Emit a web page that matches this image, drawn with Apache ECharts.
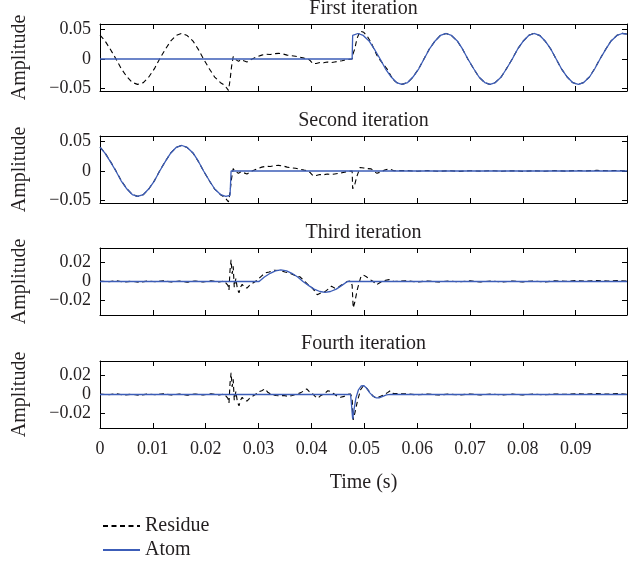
<!DOCTYPE html>
<html>
<head>
<meta charset="utf-8">
<script src="https://cdn.jsdelivr.net/npm/echarts@6/dist/echarts.min.js"></script>
<style>html,body{margin:0;padding:0;background:#fff;}#chart{width:629px;height:562px;}</style>
</head>
<body>
<div id="chart"></div>
<script>
// ---------- data ----------
const panelTitles = ['First iteration', 'Second iteration', 'Third iteration', 'Fourth iteration'];
const xTicks = [0, 0.01, 0.02, 0.03, 0.04, 0.05, 0.06, 0.07, 0.08, 0.09];
const xTickLabels = ['0', '0.01', '0.02', '0.03', '0.04', '0.05', '0.06', '0.07', '0.08', '0.09'];
const yTicksBig = [-0.05, 0, 0.05];
const yTickLabelsBig = ['\u22120.05', '0', '0.05'];
const yTicksSmall = [-0.02, 0, 0.02];
const yTickLabelsSmall = ['\u22120.02', '0', '0.02'];

// Panel 1
const residue1 = [[0,0.0402],[0.0009,0.0312],[0.0019,0.0172],[0.003,0.0005],[0.004,-0.016],[0.0051,-0.0302],[0.0061,-0.0395],[0.0071,-0.0428],[0.0082,-0.0399],[0.0092,-0.0307],[0.0103,-0.0163],[0.0113,0.0004],[0.0124,0.0168],[0.0134,0.0306],[0.0144,0.0399],[0.0155,0.0432],[0.0165,0.0395],[0.0176,0.0301],[0.0186,0.0162],[0.0196,-0.0002],[0.0207,-0.0168],[0.0217,-0.0306],[0.0228,-0.04],[0.0236,-0.0445],[0.0243,-0.053],[0.0246,-0.036],[0.0249,-0.012],
[0.0252,0.004],[0.0255,0.0],[0.0258,0.002],[0.0262,-0.004],[0.0267,-0.001],[0.0272,-0.003],[0.0278,-0.005],[0.0284,-0.002],[0.029,0.001],[0.0298,0.004],[0.0306,0.0065],[0.0314,0.008],[0.0322,0.0075],[0.033,0.009],[0.0338,0.0095],[0.0346,0.0085],[0.0354,0.0065],[0.0362,0.0055],[0.037,0.0045],[0.0378,0.003],[0.0386,0.0015],[0.0393,0.0005],[0.0398,-0.003],[0.0403,-0.008],[0.0409,-0.0075],[0.0416,-0.006],[0.0423,-0.0065],[0.043,-0.005],[0.0437,-0.006],[0.0444,-0.005],[0.0451,-0.004],[0.0458,-0.003],[0.0465,-0.0015],[0.0472,-0.0005],
[0.0477,0.0],[0.0479,0.0095],[0.0482,0.017],[0.0486,0.034],[0.0492,0.047],[0.0499,0.045],[0.0506,0.038],[0.0513,0.0275],[0.0519,0.0155],[0.0524,0.006],[0.053,-0.002],[0.0537,-0.01],[0.0544,-0.018],[0.055,-0.028],[0.0556,-0.036],[0.0561,-0.0395],[0.0571,-0.0428],
[0.0582,-0.0399],[0.0592,-0.0306],[0.0603,-0.0162],[0.0613,0.0003],[0.0623,0.0168],[0.0634,0.0306],[0.0644,0.0398],[0.0655,0.0431],[0.0665,0.0396],[0.0676,0.0302],[0.0686,0.0163],[0.0696,-0.0002],[0.0707,-0.0167],[0.0717,-0.0306],[0.0728,-0.0399],[0.0738,-0.0431],[0.0748,-0.0396],[0.0759,-0.0302],[0.0769,-0.0163],[0.078,0.0002],[0.079,0.0167],[0.0801,0.0305],[0.0811,0.0399],[0.0821,0.0431],[0.0832,0.0396],[0.0842,0.0303],[0.0853,0.0164],[0.0863,-0.0002],[0.0873,-0.0166],[0.0884,-0.0305],[0.0894,-0.0398],[0.0905,-0.043],[0.0915,-0.0395],[0.0926,-0.0301],[0.0936,-0.0161],[0.0946,0.0004],[0.0957,0.0169],[0.0967,0.0307],[0.0978,0.0399],[0.0988,0.0432],[0.0997,0.042]];
const atom1 = [[0,0],[0.0477,0],[0.0478,0.0397],[0.0488,0.043],[0.0498,0.0397],[0.0509,0.0304],[0.0519,0.0165],[0.053,0],[0.054,-0.0165],[0.0551,-0.0304],[0.0561,-0.0397],[0.0571,-0.043],[0.0582,-0.0397],[0.0592,-0.0304],[0.0603,-0.0165],[0.0613,0],[0.0623,0.0165],[0.0634,0.0304],[0.0644,0.0397],[0.0655,0.043],[0.0665,0.0397],[0.0676,0.0304],[0.0686,0.0165],[0.0696,0],[0.0707,-0.0165],[0.0717,-0.0304],[0.0728,-0.0397],[0.0738,-0.043],[0.0748,-0.0397],[0.0759,-0.0304],[0.0769,-0.0165],[0.078,0],[0.079,0.0165],[0.0801,0.0304],[0.0811,0.0397],[0.0821,0.043],[0.0832,0.0397],[0.0842,0.0304],[0.0853,0.0165],[0.0863,0],[0.0873,-0.0165],[0.0884,-0.0304],[0.0894,-0.0397],[0.0905,-0.043],[0.0915,-0.0397],[0.0926,-0.0304],[0.0936,-0.0165],[0.0946,0],[0.0957,0.0165],[0.0967,0.0304],[0.0978,0.0397],[0.0988,0.043],[0.0997,0.0418]];

// Panel 2
const residue2 = [[0,0.0402],[0.0009,0.0312],[0.0019,0.0172],[0.003,0.0005],[0.004,-0.016],[0.0051,-0.0302],[0.0061,-0.0395],[0.0071,-0.0428],[0.0082,-0.0399],[0.0092,-0.0307],[0.0103,-0.0163],[0.0113,0.0004],[0.0124,0.0168],[0.0134,0.0306],[0.0144,0.0399],[0.0155,0.0432],[0.0165,0.0395],[0.0176,0.0301],[0.0186,0.0162],[0.0196,-0.0002],[0.0207,-0.0168],[0.0217,-0.0306],[0.0228,-0.04],[0.0236,-0.0445],[0.0243,-0.052],[0.0246,-0.036],[0.0249,-0.012],
[0.0252,0.004],[0.0255,0.0],[0.0258,0.002],[0.0262,-0.004],[0.0267,-0.001],[0.0272,-0.003],[0.0278,-0.005],[0.0284,-0.002],[0.029,0.001],[0.0298,0.004],[0.0306,0.0065],[0.0314,0.008],[0.0322,0.0075],[0.033,0.009],[0.0338,0.0095],[0.0346,0.0085],[0.0354,0.0065],[0.0362,0.0055],[0.037,0.0045],[0.0378,0.003],[0.0386,0.0015],[0.0393,0.0005],[0.0398,-0.003],[0.0403,-0.008],[0.0409,-0.0075],[0.0416,-0.006],[0.0423,-0.0065],[0.043,-0.005],[0.0437,-0.006],[0.0444,-0.005],[0.0451,-0.004],[0.0458,-0.003],[0.0465,-0.0015],[0.0472,-0.0005],
[0.0477,0.0],[0.0478,-0.03],[0.0481,-0.026],[0.0486,-0.009],[0.0492,0.006],[0.0499,0.005],[0.0506,0.004],[0.0513,0.0035],[0.0519,-0.001],[0.0524,-0.004],[0.053,-0.002],[0.0537,0.001],[0.0544,0.003],[0.055,0.0025],[0.0556,0.0005],
[0.058,0.0007],[0.06,-0.0004],[0.062,0.0006],[0.064,-0.0005],[0.066,0.0004],[0.068,-0.0006],[0.07,0.0005],[0.072,-0.0003],[0.074,0.0006],[0.076,-0.0005],[0.078,0.0004],[0.08,-0.0006],[0.082,0.0003],[0.084,-0.0004],[0.086,0.0006],[0.088,-0.0002],[0.09,0.0008],[0.092,0.0002],[0.094,0.001],[0.096,0.0004],[0.098,0.0009],[0.0997,0.0003]];
const atom2 = [[0,0.04],[0.0009,0.0304],[0.0019,0.0165],[0.003,0],[0.004,-0.0165],[0.0051,-0.0304],[0.0061,-0.0397],[0.0071,-0.043],[0.0082,-0.0397],[0.0092,-0.0304],[0.0103,-0.0165],[0.0113,0],[0.0124,0.0165],[0.0134,0.0304],[0.0144,0.0397],[0.0155,0.043],[0.0165,0.0397],[0.0176,0.0304],[0.0186,0.0165],[0.0196,0],[0.0207,-0.0165],[0.0217,-0.0304],[0.0228,-0.0397],[0.0238,-0.043],[0.0246,-0.041],[0.0248,0],[0.0997,0]];

// Panel 3
const residue3 = [[0,0.0006],[0.0015,-0.0004],[0.003,0.0008],[0.0045,-0.0006],[0.006,0.0003],[0.0075,-0.0008],[0.009,0.0005],[0.0105,-0.0003],[0.012,0.0007],[0.0135,-0.0005],[0.015,0.0004],[0.0165,-0.0007],[0.018,0.0006],[0.0195,-0.0004],[0.021,0.0008],[0.0225,-0.0005],[0.0235,0.0006],
[0.0242,-0.004],[0.0244,-0.009],[0.0246,0.012],[0.0248,0.023],[0.025,0.008],[0.0252,0.016],[0.0254,-0.006],[0.0257,0.003],[0.026,-0.008],[0.0263,-0.012],[0.0266,-0.006],[0.0269,-0.003],[0.0273,-0.006],[0.0278,-0.007],[0.0283,-0.004],[0.0288,-0.002],[0.0294,0.0],[0.03,0.003],[0.0306,0.006],[0.0312,0.009],[0.032,0.01],[0.033,0.012],[0.034,0.0115],[0.035,0.01],[0.0359,0.009],[0.0368,0.0065],[0.0378,0.005],[0.0386,0.001],[0.0393,-0.003],[0.04,-0.006],[0.0406,-0.01],[0.0411,-0.014],[0.0418,-0.012],[0.0425,-0.011],[0.0432,-0.008],[0.0438,-0.005],[0.0444,-0.007],[0.045,-0.0065],[0.0456,-0.004],[0.0462,-0.002],[0.0468,0.0],[0.0474,0.0005],
[0.0477,-0.004],[0.0479,-0.028],[0.0482,-0.022],[0.0487,-0.008],[0.0493,0.004],[0.0498,0.007],[0.0504,0.005],[0.0511,0.002],[0.0517,0.0],[0.0523,-0.0035],[0.053,-0.001],[0.0538,0.001],[0.0547,0.002],[0.0556,0.0],
[0.058,0.0008],[0.06,-0.0005],[0.062,0.0006],[0.064,-0.0006],[0.066,0.0005],[0.068,-0.0004],[0.07,0.0007],[0.072,-0.0005],[0.074,0.0006],[0.076,-0.0006],[0.078,0.0005],[0.08,-0.0004],[0.082,0.0006],[0.084,-0.0005],[0.086,0.0007],[0.088,0.0002],[0.09,0.0009],[0.092,0.0003],[0.094,0.0011],[0.096,0.0005],[0.098,0.001],[0.0997,0.0004]];
const atom3 = [[0,0],[0.0301,0],[0.0311,0.0047],[0.0322,0.0087],[0.0332,0.0113],[0.0342,0.0123],[0.0353,0.0113],[0.0363,0.0087],[0.0374,0.0047],[0.0384,0],[0.0395,-0.0044],[0.0405,-0.0081],[0.0416,-0.0106],[0.0426,-0.0115],[0.0436,-0.0106],[0.0447,-0.0081],[0.0457,-0.0044],[0.0468,0],[0.0997,0]];

// Panel 4
const residue4 = [[0,0.0006],[0.0015,-0.0004],[0.003,0.0008],[0.0045,-0.0006],[0.006,0.0003],[0.0075,-0.0008],[0.009,0.0005],[0.0105,-0.0003],[0.012,0.0007],[0.0135,-0.0005],[0.015,0.0004],[0.0165,-0.0007],[0.018,0.0006],[0.0195,-0.0004],[0.021,0.0008],[0.0225,-0.0005],[0.0235,0.0006],
[0.0242,-0.004],[0.0244,-0.009],[0.0246,0.012],[0.0248,0.023],[0.025,0.008],[0.0252,0.016],[0.0254,-0.006],[0.0257,0.003],[0.026,-0.008],[0.0263,-0.012],[0.0266,-0.006],[0.0269,-0.003],[0.0273,-0.006],[0.0278,-0.007],[0.0283,-0.004],[0.0288,-0.002],[0.0294,0.0],
[0.03,0.003],[0.0306,0.004],[0.0312,0.006],[0.0318,0.002],[0.0325,0.0],[0.0333,-0.001],[0.034,-0.0015],[0.0348,-0.001],[0.0356,-0.002],[0.0364,-0.001],[0.0372,0.0005],[0.038,0.002],[0.0386,0.004],[0.0391,0.006],[0.0396,0.003],[0.0402,0.001],[0.0407,-0.002],[0.0412,-0.004],[0.0418,-0.001],[0.0425,0.001],[0.0431,0.004],[0.0437,0.003],[0.0443,0.0005],[0.0449,-0.002],[0.0455,-0.003],[0.0462,-0.002],[0.0468,0.0],[0.0474,0.0005],
[0.0477,-0.004],[0.0479,-0.027],[0.0482,-0.02],[0.0487,-0.007],[0.0493,0.005],[0.0498,0.009],[0.0504,0.007],[0.0511,0.002],[0.0517,-0.002],[0.0523,-0.004],[0.053,-0.002],[0.0538,0.0],[0.0544,0.002],[0.0549,0.004],[0.0555,0.001],
[0.058,0.0007],[0.06,-0.0004],[0.062,0.0005],[0.064,-0.0006],[0.066,0.0004],[0.068,-0.0005],[0.07,0.0006],[0.072,-0.0004],[0.074,0.0005],[0.076,-0.0006],[0.078,0.0004],[0.08,-0.0005],[0.082,0.0005],[0.084,-0.0004],[0.086,0.0006],[0.088,0.0002],[0.09,0.0008],[0.092,0.0003],[0.094,0.001],[0.096,0.0004],[0.098,0.0009],[0.0997,0.0003]];
const atom4 = [[0,0],[0.0474,0],[0.0476,-0.012],[0.0478,-0.026],[0.048,-0.018],[0.0484,-0.004],[0.0489,0.005],[0.0494,0.009],[0.0499,0.0095],[0.0504,0.007],[0.051,0.002],[0.0516,-0.0015],[0.0522,-0.0035],[0.0528,-0.0035],[0.0535,-0.002],[0.0542,-0.0005],[0.055,0.0002],[0.0558,0],[0.0997,0]];

const residues = [residue1, residue2, residue3, residue4];
const atoms = [atom1, atom2, atom3, atom4];
const legendNames = ['Residue', 'Atom'];

// ---------- layout / style ----------
const FONT = 'Liberation Serif';
const TXT = '#231f20';
const AX = '#000';
const BLUE = '#3c5db8';
const gridTops = [24, 136, 248, 361];
const gridH = 67;
const yRanges = [[-0.054, 0.059], [-0.054, 0.059], [-0.0355, 0.0355], [-0.0355, 0.0355]];
const yTickSets = [yTicksBig, yTicksBig, yTicksSmall, yTicksSmall];
const yLabelSets = [yTickLabelsBig, yTickLabelsBig, yTickLabelsSmall, yTickLabelsSmall];
const titleY = [9, 121, 233, 344];
const XMAX = 0.0997;

const grids = [], xAxes = [], yAxes = [], series = [], graphics = [];
for (let i = 0; i < 4; i++) {
  grids.push({ left: 100, right: 2, top: gridTops[i], height: gridH, containLabel: false });
  const xBase = {
    type: 'value', gridIndex: i, min: 0, max: XMAX,
    axisLine: { show: true, onZero: false, lineStyle: { color: AX, width: 1 } },
    axisTick: { show: true, inside: true, length: 5, customValues: xTicks, lineStyle: { color: AX, width: 1 } },
    splitLine: { show: false }
  };
  xAxes.push(Object.assign({}, xBase, {
    position: 'bottom',
    axisLabel: {
      show: i === 3, customValues: xTicks, margin: 12,
      fontFamily: FONT, fontSize: 18, color: TXT,
      formatter: (v) => { const k = xTicks.findIndex(t => Math.abs(t - v) < 1e-9); return k >= 0 ? xTickLabels[k] : ''; }
    },
    name: i === 3 ? 'Time (s)' : '', nameLocation: 'middle', nameGap: 45,
    nameTextStyle: { fontFamily: FONT, fontSize: 20, color: TXT }
  }));
  xAxes.push(Object.assign({}, xBase, { position: 'top', axisLabel: { show: false } }));

  const yT = yTickSets[i], yL = yLabelSets[i];
  const yBase = {
    type: 'value', gridIndex: i, min: yRanges[i][0], max: yRanges[i][1],
    axisLine: { show: true, onZero: false, lineStyle: { color: AX, width: 1 } },
    axisTick: { show: true, inside: true, length: 5, customValues: yT, lineStyle: { color: AX, width: 1 } },
    splitLine: { show: false }
  };
  yAxes.push(Object.assign({}, yBase, {
    position: 'left',
    axisLabel: {
      show: true, customValues: yT, margin: 9,
      fontFamily: FONT, fontSize: 18, color: TXT,
      formatter: (v) => { const k = yT.findIndex(t => Math.abs(t - v) < 1e-9); return k >= 0 ? yL[k] : ''; }
    },
    name: 'Amplitude', nameLocation: 'middle', nameGap: 70, nameRotate: 90,
    nameTextStyle: { fontFamily: FONT, fontSize: 20, color: TXT }
  }));
  yAxes.push(Object.assign({}, yBase, { position: 'right', axisLabel: { show: false } }));

  series.push({
    name: legendNames[0], type: 'line', xAxisIndex: 2 * i, yAxisIndex: 2 * i,
    data: residues[i], symbol: 'none', showSymbol: false, smooth: false, animation: false,
    lineStyle: { color: '#000', width: 1.1, type: [5, 3.5] }, itemStyle: { color: '#000' }, z: 2
  });
  series.push({
    name: legendNames[1], type: 'line', xAxisIndex: 2 * i, yAxisIndex: 2 * i,
    data: atoms[i], symbol: 'none', showSymbol: false, smooth: false, animation: false,
    lineStyle: { color: BLUE, width: 1.3 }, itemStyle: { color: BLUE }, z: 3
  });

  graphics.push({
    type: 'text', x: 363.5, y: titleY[i],
    style: { text: panelTitles[i], font: '20px "' + FONT + '"', fill: TXT, align: 'center', verticalAlign: 'middle', textAlign: 'center', textVerticalAlign: 'middle' }
  });
}

const legendBase = {
  left: 97, itemWidth: 37, itemHeight: 12,
  itemStyle: { opacity: 0 },
  textStyle: { fontFamily: FONT, fontSize: 20, color: TXT }
};
const legends = [
  Object.assign({}, legendBase, { data: [legendNames[0]], top: 511 }),
  Object.assign({}, legendBase, { data: [legendNames[1]], top: 535 })
];

const chart = echarts.init(document.getElementById('chart'), null, { renderer: 'canvas' });
chart.setOption({
  animation: false,
  backgroundColor: '#fff',
  grid: grids, xAxis: xAxes, yAxis: yAxes, series: series,
  graphic: graphics,
  legend: legends
});
</script>
</body>
</html>
